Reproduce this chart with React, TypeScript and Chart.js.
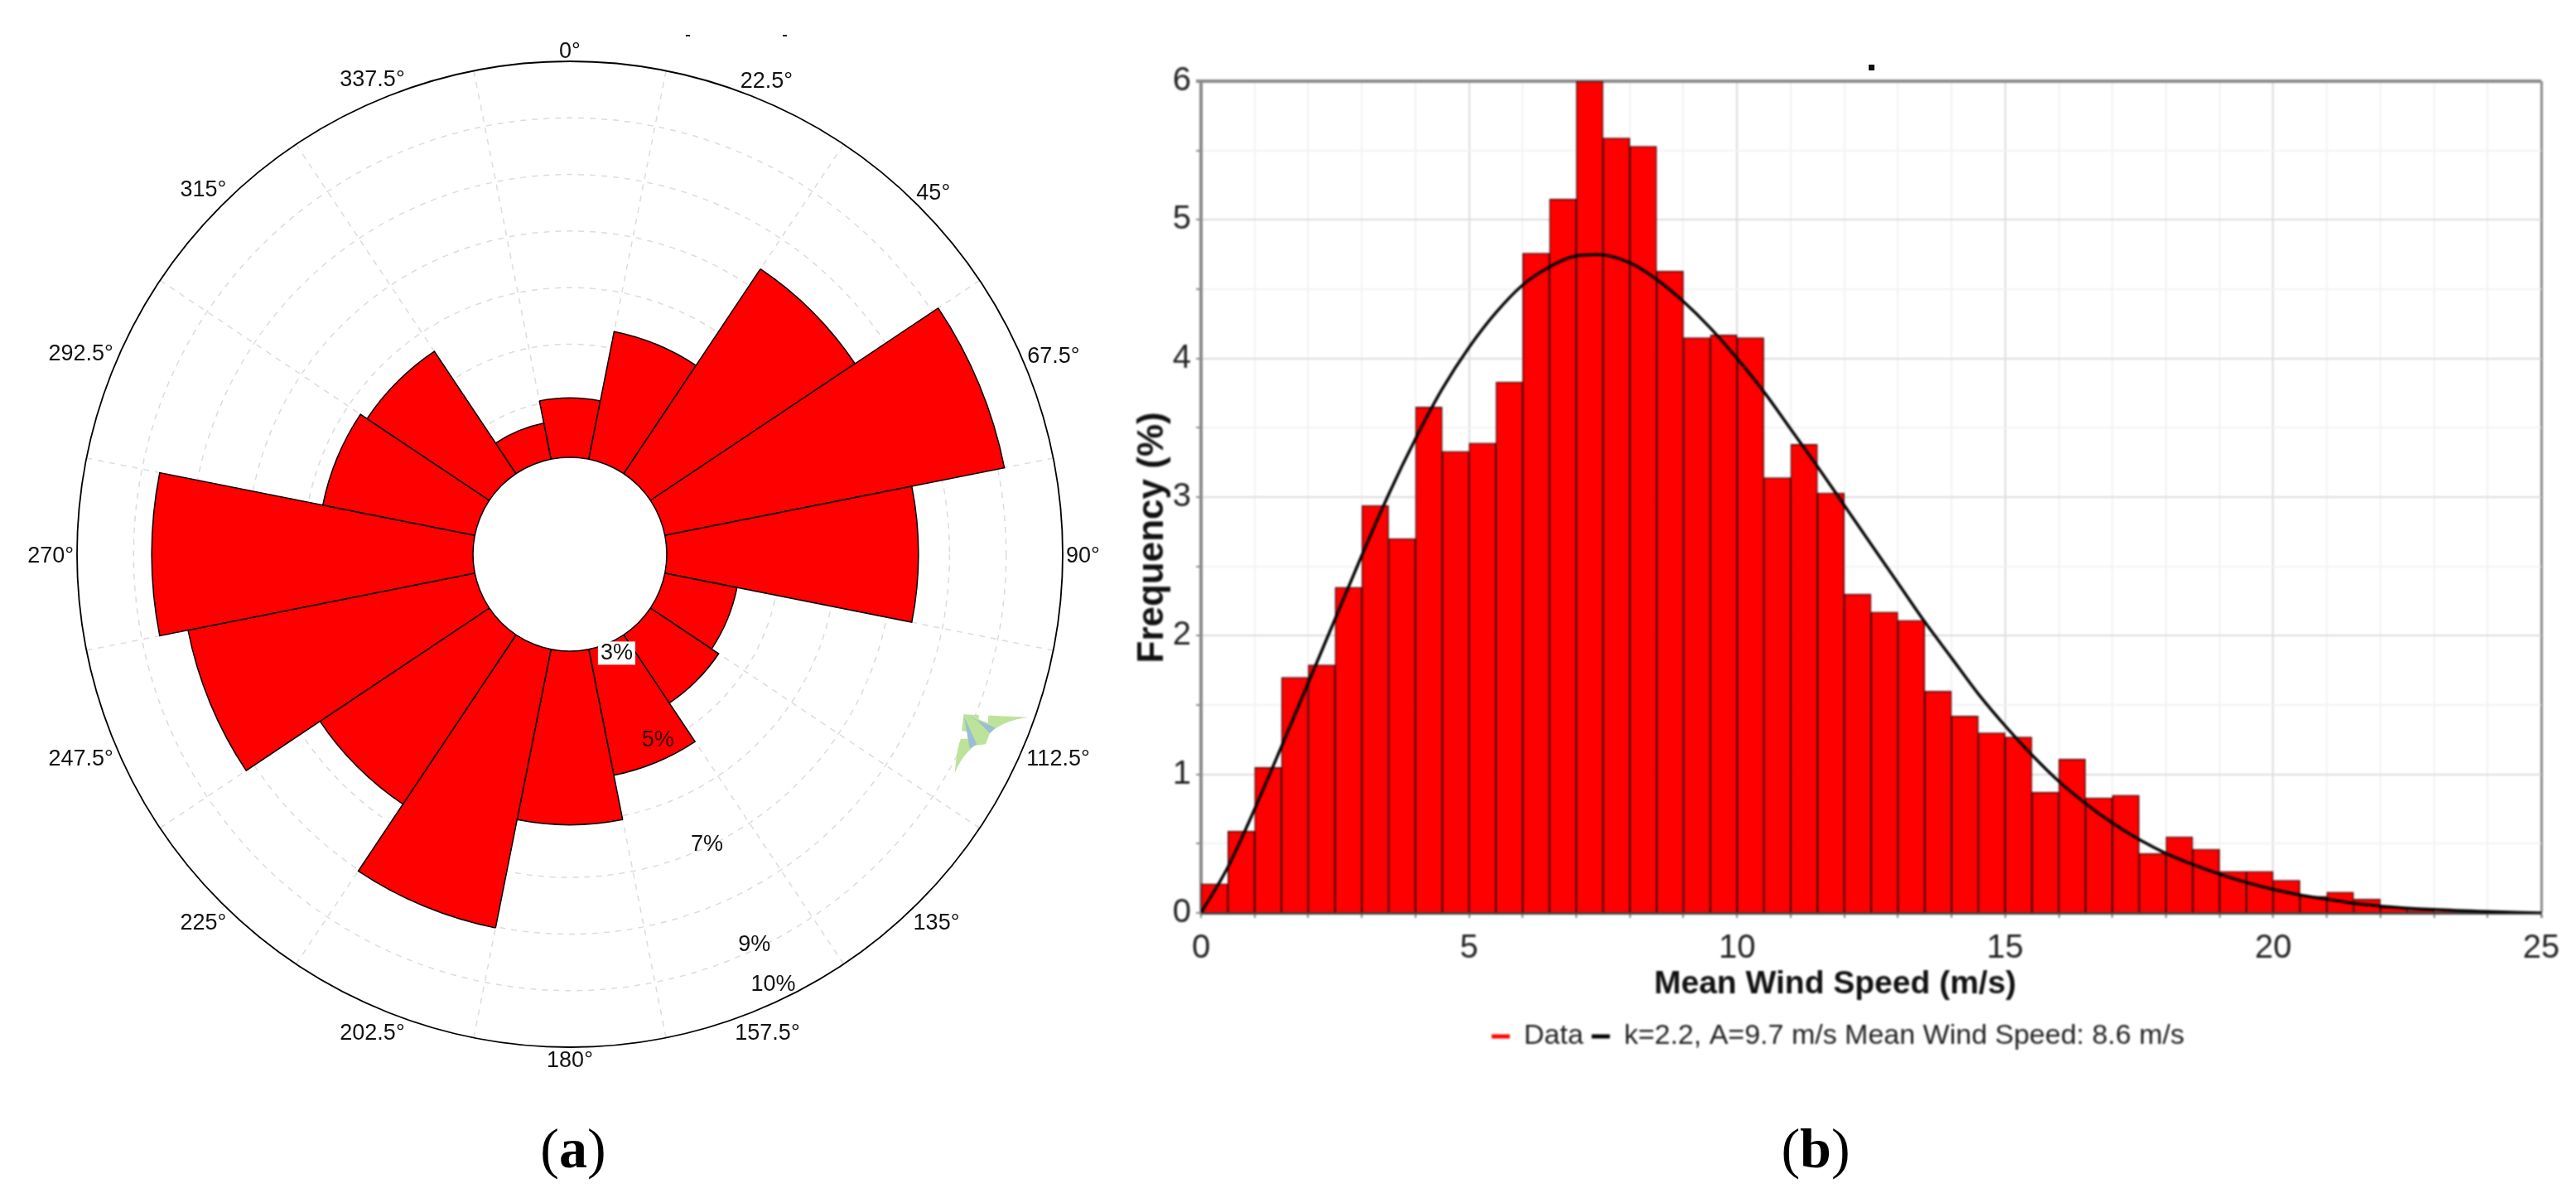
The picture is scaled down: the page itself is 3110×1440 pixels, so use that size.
import React, { useEffect, useRef } from "react";
import { Chart, registerables } from "chart.js";

Chart.register(...registerables);

const FONT = "'Liberation Sans', Arial, sans-serif";

// (a) wind rose
const directionLabels = ["0°","22.5°","45°","67.5°","90°","112.5°","135°","157.5°","180°","202.5°","225°","247.5°","270°","292.5°","315°","337.5°"];
const directionFrequency = [4.05,5.3,7.35,9.12,7.45,4.3,4.45,5.27,6.07,8.02,6.6,8.17,8.68,5.74,5.6,3.65];
const ringValues = [4,5,6,7,8,9,10];
const percentLabels = ["3%","5%","7%","9%","10%"];
const percentLabelAt = [3.22,4.93,6.96,8.92,9.7];

// (b) histogram
const binCenters = [0.25,0.75,1.25,1.75,2.25,2.75,3.25,3.75,4.25,4.75,5.25,5.75,6.25,6.75,7.25,7.75,8.25,8.75,9.25,9.75,10.25,10.75,11.25,11.75,12.25,12.75,13.25,13.75,14.25,14.75,15.25,15.75,16.25,16.75,17.25,17.75,18.25,18.75,19.25,19.75,20.25,20.75,21.25,21.75,22.25,22.75,23.25,23.75,24.25,24.75];
const binFrequency = [0.21,0.59,1.05,1.7,1.79,2.35,2.94,2.7,3.65,3.33,3.39,3.83,4.76,5.15,6,5.59,5.53,4.63,4.15,4.17,4.15,3.14,3.38,3.03,2.3,2.17,2.11,1.6,1.42,1.3,1.27,0.87,1.11,0.83,0.85,0.43,0.55,0.46,0.3,0.3,0.235,0.12,0.15,0.1,0.04,0.02,0.012,0.008,0.004,0.002];
const curveSpeed = [0,0.5,1,1.5,2,2.5,3,3.5,4,4.5,5,5.5,6,6.5,7,7.4,8,8.5,9,9.5,10,10.5,11,11.5,12,12.5,13,13.5,14,14.5,15,15.5,16,16.5,17,17.5,18,18.5,19,19.5,20,20.5,21,21.5,22,23,24,25];
const curveFrequency = [0,0.33,0.75,1.2,1.66,2.12,2.58,3.02,3.42,3.78,4.08,4.33,4.53,4.66,4.74,4.75,4.69,4.57,4.41,4.22,4,3.76,3.49,3.22,2.94,2.66,2.38,2.1,1.84,1.58,1.35,1.14,0.95,0.79,0.65,0.53,0.43,0.35,0.28,0.22,0.17,0.13,0.1,0.07,0.05,0.025,0.01,0];

const RADIAL_MIN = 1.287;

const roseLabelsPlugin = {
  id: "roseLabels",
  afterDatasetsDraw(chart: any) {
    const { ctx } = chart;
    const r = chart.scales.r;
    const hole = r.getDistanceFromCenterForValue(3);
    const outer = r.getDistanceFromCenterForValue(10);
    ctx.save();
    // centre hole
    ctx.beginPath();
    ctx.arc(r.xCenter, r.yCenter, hole, 0, Math.PI * 2);
    ctx.fillStyle = "#fff";
    ctx.fill();
    ctx.lineWidth = 1.5;
    ctx.strokeStyle = "#000";
    ctx.stroke();
    // outer ring
    ctx.beginPath();
    ctx.arc(r.xCenter, r.yCenter, outer, 0, Math.PI * 2);
    ctx.lineWidth = 1.8;
    ctx.stroke();
    ctx.font = `27px ${FONT}`;
    ctx.textAlign = "center";
    ctx.textBaseline = "middle";
    ctx.fillStyle = "#111";
    // direction labels, centred on each sector
    const half = (Math.PI / 180) * 11.25;
    chart.data.labels.forEach((lab: string, i: number) => {
      const w = ctx.measureText(lab).width;
      const a = r.getIndexAngle(i) + half;
      const d = outer + 4 + (Math.abs(Math.sin(a)) * w) / 2 + (Math.abs(Math.cos(a)) * 20) / 2;
      const p = r.getPointPosition(i, d, half);
      ctx.fillText(lab, p.x, p.y + 3);
    });
    // percentage labels along the radial axis
    const labelAngle = (Math.PI / 180) * 8.45;
    percentLabels.forEach((lab, k) => {
      const p = r.getPointPosition(7, r.getDistanceFromCenterForValue(percentLabelAt[k]), labelAngle);
      if (k === 0) {
        const w = ctx.measureText(lab).width;
        ctx.fillStyle = "#fff";
        ctx.fillRect(p.x - w / 2 - 3, p.y - 14, w + 6, 28);
      }
      ctx.fillStyle = k === 1 ? "#300" : "#111";
      ctx.fillText(lab, p.x, p.y);
    });
    ctx.restore();
  },
};

export default function App() {
  const roseRef = useRef<HTMLCanvasElement>(null);
  const histRef = useRef<HTMLCanvasElement>(null);

  useEffect(() => {
    const rose = new Chart(roseRef.current!, {
      type: "polarArea",
      data: {
        labels: directionLabels,
        datasets: [{
          data: directionFrequency,
          backgroundColor: "#ff0000",
          borderColor: "#000",
          borderWidth: 1.5,
          borderJoinStyle: "miter",
        } as any],
      },
      options: {
        animation: false,
        responsive: false,
        devicePixelRatio: 1,
        layout: { padding: { left: 93, right: 97, top: 74, bottom: 56 } },
        plugins: { legend: { display: false }, tooltip: { enabled: false } },
        scales: {
          r: {
            min: RADIAL_MIN,
            max: 10,
            startAngle: -11.25,
            afterBuildTicks: (axis: any) => {
              axis.ticks = [RADIAL_MIN, ...ringValues].map((value) => ({ value }));
            },
            ticks: { display: false },
            grid: { circular: true, color: "#dcdcdc", lineWidth: 1.5 },
            border: { dash: [7, 7] },
            angleLines: { display: true, color: "#dcdcdc", lineWidth: 1.5, borderDash: [7, 7] },
            pointLabels: { display: false },
          },
        },
      } as any,
      plugins: [roseLabelsPlugin],
    });

    const major = "#dcdcdc";
    const minor = "#f2f2f2";
    const axisGray = "#8a8a8a";
    const hist = new Chart(histRef.current!, {
      type: "bar",
      data: {
        datasets: [
          {
            type: "line",
            label: "k=2.2, A=9.7 m/s Mean Wind Speed: 8.6 m/s",
            data: curveSpeed.map((x, i) => ({ x, y: curveFrequency[i] })),
            borderColor: "#000",
            backgroundColor: "#000",
            borderWidth: 3.5,
            pointRadius: 0,
            cubicInterpolationMode: "monotone",
            order: 0,
          },
          {
            type: "bar",
            label: "Data",
            data: binCenters.map((x, i) => ({ x, y: binFrequency[i] })),
            backgroundColor: "#ff0000",
            borderColor: "#4a0a0a",
            borderWidth: 1.5,
            categoryPercentage: 1,
            barPercentage: 1,
            order: 1,
          },
        ],
      } as any,
      options: {
        animation: false,
        responsive: false,
        devicePixelRatio: 1,
        layout: { padding: { left: 0, right: 42, top: 98, bottom: 22 } },
        plugins: {
          tooltip: { enabled: false },
          legend: {
            position: "bottom",
            labels: {
              sort: (a: any, b: any) => b.datasetIndex - a.datasetIndex,
              boxWidth: 22,
              boxHeight: 5,
              padding: 10,
              color: "#222",
              font: { family: FONT, size: 34 },
              generateLabels: (chart: any) =>
                Chart.defaults.plugins.legend.labels.generateLabels(chart).map((it: any) => ({ ...it, lineWidth: 0 })),
            },
          },
        },
        scales: {
          x: {
            type: "linear",
            min: 0,
            max: 25,
            offset: false,
            afterFit: (s: any) => { s.height = 122; },
            grid: {
              offset: false,
              color: (c: any) => (c.tick.value === 25 ? axisGray : c.tick.value % 5 === 0 ? major : minor),
              lineWidth: (c: any) => (c.tick.value === 25 ? 3 : 2),
              tickLength: 6,
              tickColor: axisGray,
            },
            border: { color: "#444", width: 3 },
            ticks: {
              stepSize: 1,
              autoSkip: false,
              maxRotation: 0,
              padding: 13,
              color: "#222",
              font: { family: FONT, size: 40 },
              callback: (v: any) => (v % 5 === 0 ? String(v) : ""),
            },
            title: {
              display: true,
              text: "Mean Wind Speed (m/s)" + " ".repeat(8),
              color: "#111",
              padding: { top: 0, bottom: 12 },
              font: { family: FONT, size: 39, weight: "bold" },
            },
          },
          y: {
            min: 0,
            max: 6,
            afterFit: (s: any) => { s.width = 80; },
            grid: {
              color: (c: any) => (c.tick.value === 6 ? axisGray : Number.isInteger(c.tick.value) ? major : minor),
              lineWidth: (c: any) => (c.tick.value === 6 ? 4 : 2),
              tickLength: 6,
              tickColor: axisGray,
            },
            border: { color: axisGray, width: 4 },
            ticks: {
              stepSize: 0.5,
              autoSkip: false,
              padding: 6,
              color: "#222",
              font: { family: FONT, size: 40 },
              callback: (v: any) => (Number.isInteger(v) ? String(v) : ""),
            },
            title: {
              display: true,
              text: "Frequency (%)" + " ".repeat(8),
              color: "#111",
              padding: { top: 0, bottom: 0 },
              font: { family: FONT, size: 44, weight: "bold", lineHeight: 1 },
            },
          },
        },
      } as any,
    });

    return () => {
      rose.destroy();
      hist.destroy();
    };
  }, []);

  const abs = (left: number, top: number): React.CSSProperties => ({ position: "absolute", left, top });
  const captionStyle = (cx: number): React.CSSProperties => ({
    position: "absolute",
    left: cx,
    top: 1386,
    transform: "translate(-50%,-50%)",
    fontFamily: "'Liberation Serif', serif",
    fontSize: 68,
    color: "#000",
    whiteSpace: "nowrap",
  });

  return (
    <div style={{ position: "absolute", left: 0, top: 0, width: 3110, height: 1440, overflow: "hidden", background: "#fff" }}>
      <canvas ref={roseRef} width={1380} height={1320} style={abs(0, 0)} />
      <canvas ref={histRef} width={1740} height={1300} style={{ ...abs(1370, 0), filter: "blur(0.8px)" }} />
      <svg width={200} height={140} viewBox="0 0 600 420" style={abs(1100, 820)}>
        <path d="M190,127 L425,137 Q330,150 285,195 L270,235 L230,240 Q180,280 158,340 Q165,250 180,215 Z" fill="#bde39a" />
        <path d="M245,128 L280,130 L278,158 L245,145 Z" fill="#fff" />
        <path d="M175,185 L205,190 L205,215 L175,215 Z" fill="#fff" />
        <path d="M190,127 L305,175 L285,195 L240,150 Z M192,135 L238,235 L212,250 Z" fill="#9bbdd6" />
      </svg>
      <div style={{ ...abs(828, 42), width: 5, height: 2, background: "#222" }} />
      <div style={{ ...abs(945, 42), width: 5, height: 2, background: "#222" }} />
      <div style={{ ...abs(2256, 78), width: 7, height: 7, background: "#111" }} />
      <div style={captionStyle(692)}>(<b>a</b>)</div>
      <div style={captionStyle(2192)}>(<b>b</b>)</div>
    </div>
  );
}
